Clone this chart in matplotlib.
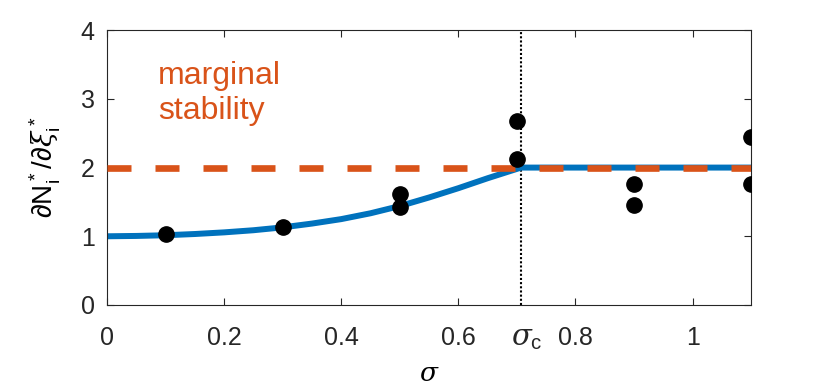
import numpy as np
import matplotlib
matplotlib.use('Agg')
import matplotlib.pyplot as plt

plt.rcParams['font.family'] = ['Liberation Sans', 'DejaVu Sans']
plt.rcParams['mathtext.fontset'] = 'custom'
plt.rcParams['mathtext.rm'] = 'Liberation Sans'
plt.rcParams['mathtext.it'] = 'DejaVu Serif:italic'

# theory curve
sigma_curve = [0.0, 0.05, 0.1, 0.15, 0.2, 0.25, 0.3, 0.35, 0.4, 0.45, 0.5, 0.55, 0.6, 0.65, 0.707, 1.1]
slope_curve = [1.0, 1.005, 1.015, 1.033, 1.057, 1.088, 1.13, 1.185, 1.25, 1.335, 1.44, 1.565, 1.70, 1.845, 2.0, 2.0]

# simulation points
sigma_pts = [0.1, 0.3, 0.5, 0.5, 0.7, 0.7, 0.9, 0.9, 1.1, 1.1]
slope_pts = [1.03, 1.13, 1.62, 1.43, 2.68, 2.13, 1.76, 1.45, 2.45, 1.76]

sigma_c = 0.707
marginal = 2.0
xticks = [0, 0.2, 0.4, 0.6, 0.8, 1]
yticks = [0, 1, 2, 3, 4]

blue = '#0072BD'
orange = '#D95319'

fig = plt.figure(figsize=(8.3, 3.92), dpi=100)
ax = fig.add_axes([0.129, 0.222, 0.776, 0.701])

ax.plot(sigma_curve, slope_curve, color=blue, linewidth=4.3, solid_capstyle='butt', zorder=2)
ax.axhline(marginal, color=orange, linewidth=4.8, linestyle=(0, (3.6, 3.6)), zorder=3)
ax.axvline(sigma_c, color='black', linewidth=1.5, linestyle=(0, (1, 1)), zorder=1)
ax.plot(sigma_pts, slope_pts, 'o', color='black', markersize=11, zorder=4)

ax.text(0.087, 3.08, 'marginal\nstability', color=orange, fontsize=23,
        linespacing=1.2, va='center', ha='left')

ax.set_xlim(0, 1.1)
ax.set_ylim(0, 4)
ax.set_xticks(xticks)
ax.set_xticklabels(['0', '0.2', '0.4', '0.6', '0.8', '1'])
ax.set_yticks(yticks)
ax.tick_params(direction='in', length=5, width=0.8, labelsize=18, colors='#262626',
               top=True, right=True, pad=9)
ax.tick_params(axis='x', pad=15)
for s in ax.spines.values():
    s.set_color('#262626')
    s.set_linewidth(0.8)

ax.text(sigma_c + 0.01, -0.27, r'$\sigma_{\mathrm{c}}$', fontsize=21, ha='center', va='top',
        color='#262626')

ax.set_xlabel(r'$\sigma$', fontsize=19, labelpad=9)
ax.set_ylabel(r'$\partial\mathrm{N}_\mathrm{i}^*/\partial\xi_\mathrm{i}^*$', fontsize=20, labelpad=13)

fig.savefig('out.png', dpi=100)
